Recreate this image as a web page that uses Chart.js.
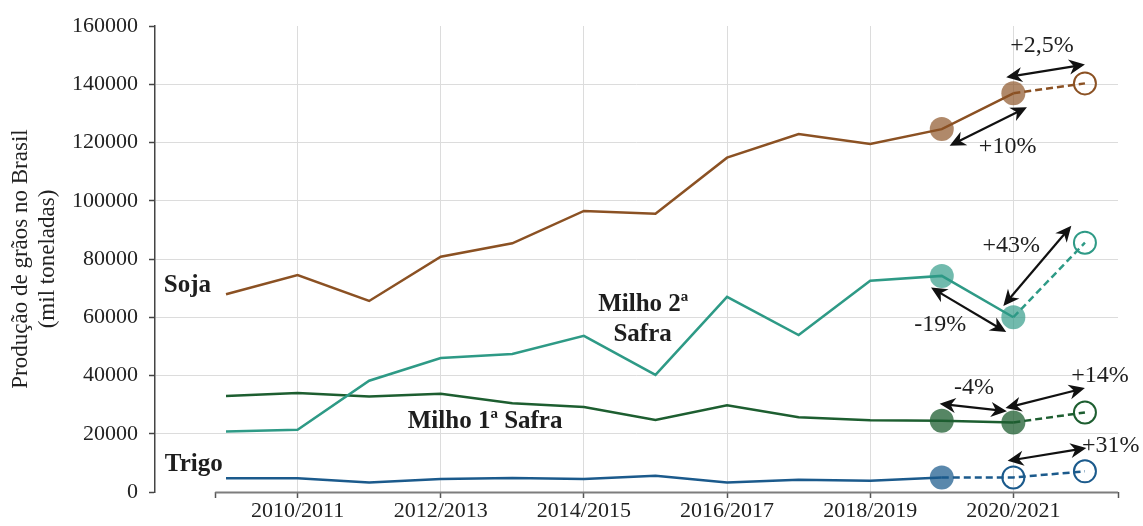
<!DOCTYPE html>
<html>
<head>
<meta charset="utf-8">
<script src="https://cdn.jsdelivr.net/npm/chart.js@4.4.1/dist/chart.umd.min.js"></script>
<style>body{margin:0;background:#fff}</style>
</head>
<body>
<canvas id="graos" width="1143" height="526"></canvas>
<script>
// safras (categorias do eixo x)
const seasons = ['2009/2010', '2010/2011', '2011/2012', '2012/2013', '2013/2014', '2014/2015', '2015/2016',
                 '2016/2017', '2017/2018', '2018/2019', '2019/2020', '2020/2021', '2021/2022'];

// producao em mil toneladas
const soja   = [67900, 74500, 65600, 80800, 85400, 96500, 95500, 114800, 122900, 119500, 124600, 136900, 140300];
const milho2 = [20800, 21400, 38200, 46000, 47400, 53600, 40200, 67000, 53900, 72500, 74200, 60000, 85600];
const milho1 = [33000, 34000, 32800, 33700, 30500, 29200, 24700, 29800, 25700, 24600, 24500, 23900, 27300];
const trigo  = [4700, 4700, 3300, 4500, 4800, 4500, 5600, 3300, 4200, 3900, 5000, 5000, 7100];

// setas de variacao (coordenadas em unidades do grafico: indice da safra, mil t)
const arrows = [
    [10.90, 142400, 12.00, 146800],
    [10.11, 118900, 11.19, 132100],
    [10.86, 63900, 11.81, 91400],
    [9.85, 70200, 10.90, 54900],
    [9.97, 30300, 10.91, 27700],
    [10.89, 28800, 12.00, 35700],
    [10.92, 10700, 12.02, 15100]
];
const pctLabels = [
    ['+2,5%', 11.40, 151200],
    ['+10%', 10.92, 116300],
    ['+43%', 10.97, 82500],
    ['-19%', 9.98, 55300],
    ['-4%', 10.45, 33700],
    ['+14%', 12.21, 37600],
    ['+31%', 12.36, 13900]
];
const seriesLabels = [
    ['Soja', -0.54, 68700],
    ['Trigo', -0.45, 7100],
    ['Milho 2ª', 5.83, 62000],
    ['Safra', 5.82, 51700],
    ['Milho 1ª Safra', 3.62, 22000]
];

const SERIF = "'Liberation Serif', 'Times New Roman', serif";
const xMin = -0.992, xMax = 12.462, xAxisStart = -0.15;

function makeSet(label, values, color, fill, filled, hollow, dashFrom) {
    return {
        label: label,
        data: values.map((v, i) => ({x: i, y: v})),
        borderColor: color,
        borderWidth: 2.5,
        tension: 0,
        pointRadius: values.map((v, i) => filled.includes(i) ? 12 : (hollow.includes(i) ? 11 : 0)),
        pointBackgroundColor: values.map((v, i) => filled.includes(i) ? fill : 'rgba(0,0,0,0)'),
        pointBorderColor: values.map((v, i) => hollow.includes(i) ? color : 'rgba(0,0,0,0)'),
        pointBorderWidth: values.map((v, i) => hollow.includes(i) ? 2 : 0),
        segment: {
            borderDash: c => c.p0DataIndex >= dashFrom ? [7, 4] : undefined
        }
    };
}

function head(c, x1, y1, x2, y2) {
    const a = Math.atan2(y2 - y1, x2 - x1);
    const L = 16, W = 7.5;
    const bx = x2 - L * Math.cos(a), by = y2 - L * Math.sin(a);
    const ix = x2 - L * 0.7 * Math.cos(a), iy = y2 - L * 0.7 * Math.sin(a);
    c.beginPath();
    c.moveTo(x2, y2);
    c.lineTo(bx + W * Math.sin(a), by - W * Math.cos(a));
    c.lineTo(ix, iy);
    c.lineTo(bx - W * Math.sin(a), by + W * Math.cos(a));
    c.closePath();
    c.fill();
}

const extras = {
    id: 'extras',
    afterDraw(chart) {
        const c = chart.ctx, xs = chart.scales.x, ys = chart.scales.y, area = chart.chartArea;
        c.save();
        // eixo x (comeca depois do eixo y)
        c.strokeStyle = '#7d7d7d';
        c.lineWidth = 2;
        c.beginPath();
        c.moveTo(xs.getPixelForValue(xAxisStart), area.bottom + 0.5);
        c.lineTo(area.right, area.bottom + 0.5);
        c.stroke();

        // setas
        c.strokeStyle = '#111';
        c.fillStyle = '#111';
        c.lineWidth = 2.2;
        arrows.forEach(a => {
            const x1 = xs.getPixelForValue(a[0]), y1 = ys.getPixelForValue(a[1]);
            const x2 = xs.getPixelForValue(a[2]), y2 = ys.getPixelForValue(a[3]);
            const ang = Math.atan2(y2 - y1, x2 - x1);
            c.beginPath();
            c.moveTo(x1 + 10 * Math.cos(ang), y1 + 10 * Math.sin(ang));
            c.lineTo(x2 - 10 * Math.cos(ang), y2 - 10 * Math.sin(ang));
            c.stroke();
            head(c, x1, y1, x2, y2);
            head(c, x2, y2, x1, y1);
        });

        c.textAlign = 'center';
        c.textBaseline = 'alphabetic';
        c.fillStyle = '#1e1e1e';
        c.font = '24px ' + SERIF;
        pctLabels.forEach(p => c.fillText(p[0], xs.getPixelForValue(p[1]), ys.getPixelForValue(p[2])));

        c.font = 'bold 25px ' + SERIF;
        seriesLabels.forEach(p => c.fillText(p[0], xs.getPixelForValue(p[1]), ys.getPixelForValue(p[2])));
        c.restore();
    }
};

new Chart(document.getElementById('graos').getContext('2d'), {
    type: 'line',
    data: {
        datasets: [
            makeSet('Soja', soja, '#8b5123', 'rgba(139,81,35,0.68)', [10, 11], [12], 11),
            makeSet('Milho 2ª Safra', milho2, '#2e9a86', 'rgba(46,154,134,0.68)', [10, 11], [12], 11),
            makeSet('Milho 1ª Safra', milho1, '#1d5e30', 'rgba(29,94,48,0.75)', [10, 11], [12], 11),
            makeSet('Trigo', trigo, '#1b5a8c', 'rgba(27,90,140,0.72)', [10], [11, 12], 10)
        ]
    },
    options: {
        responsive: false,
        animation: false,
        layout: {padding: {top: 26, right: 25, left: 0, bottom: 0}},
        plugins: {
            legend: {display: false},
            tooltip: {enabled: false}
        },
        scales: {
            x: {
                type: 'linear',
                min: xMin,
                max: xMax,
                afterBuildTicks: s => {
                    s.ticks = [xAxisStart, 1, 3, 5, 7, 9, 11, xMax].map(v => ({value: v}));
                },
                afterFit: s => { s.height = 34; },
                border: {display: false},
                grid: {
                    color: c => (c.tick && Number.isInteger(c.tick.value)) ? '#dcdcdc' : 'rgba(0,0,0,0)',
                    lineWidth: 1,
                    tickColor: '#555',
                    tickLength: 6,
                    tickWidth: 1.5
                },
                ticks: {
                    autoSkip: false,
                    maxRotation: 0,
                    padding: 0,
                    color: '#222',
                    font: {family: SERIF, size: 22},
                    callback: v => Number.isInteger(v) ? seasons[v] : ''
                }
            },
            y: {
                min: 0,
                max: 160000,
                afterFit: s => { s.width = 155; },
                border: {display: true, color: '#444', width: 1.5},
                grid: {
                    color: c => (c.tick && c.tick.value > 0 && c.tick.value < 160000) ? '#dcdcdc' : 'rgba(0,0,0,0)',
                    lineWidth: 1,
                    tickColor: '#444',
                    tickLength: 6,
                    tickWidth: 1.5
                },
                ticks: {
                    stepSize: 20000,
                    padding: 11,
                    color: '#222',
                    font: {family: SERIF, size: 22},
                    callback: v => String(v)
                },
                title: {
                    display: true,
                    text: ['Produção de grãos no Brasil', '(mil toneladas)'],
                    color: '#222',
                    font: {family: SERIF, size: 23, lineHeight: 1.2},
                    padding: {top: 7, bottom: 0}
                }
            }
        }
    },
    plugins: [extras]
});
</script>
</body>
</html>
